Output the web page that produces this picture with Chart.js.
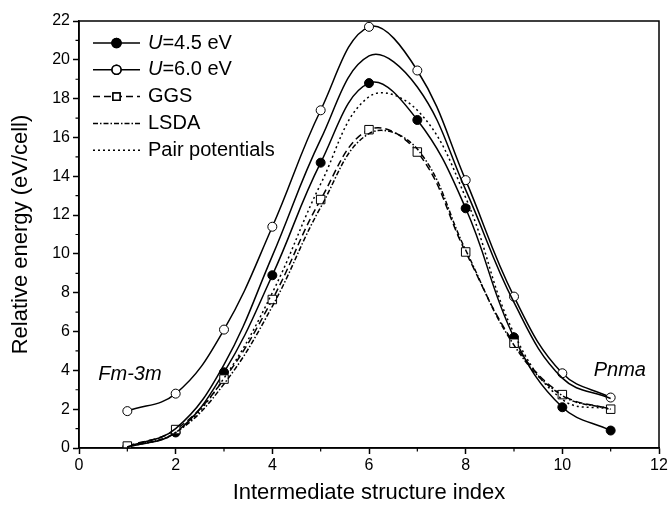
<!DOCTYPE html>
<html>
<head>
<meta charset="utf-8">
<script src="https://cdn.jsdelivr.net/npm/chart.js@4/dist/chart.umd.min.js"></script>
<style>
html, body { margin: 0; padding: 0; background: #fff; }
</style>
</head>
<body>
<canvas id="chart" width="670" height="512"></canvas>
<script>
// structure index along the path Fm-3m -> Pnma
const structure_index = [1, 2, 3, 4, 5, 6, 7, 8, 9, 10, 11];

// relative energies, eV/cell
const energy_u45 = [0.05, 0.8, 3.9, 8.9, 14.7, 18.8, 16.9, 12.35, 5.7, 2.1, 0.9];
const energy_u60 = [1.9, 2.8, 6.1, 11.4, 17.4, 21.7, 19.45, 13.8, 7.8, 3.85, 2.6];
const energy_unlabelled = [0.05, 1.0, 4.3, 9.9, 15.9, 20.2, 18.6, 13.3, 7.5, 3.6, 2.55];
const energy_ggs = [0.1, 0.95, 3.55, 7.65, 12.8, 16.4, 15.25, 10.1, 5.4, 2.75, 2.0];
const energy_lsda = [0.05, 0.8, 3.3, 7.3, 12.4, 16.2, 15.4, 10.2, 5.3, 2.7, 2.0];
const energy_pair = [0.05, 0.8, 3.6, 8.0, 13.6, 18.1, 17.4, 12.9, 5.9, 2.5, 2.0];

const x_ticks = [0, 2, 4, 6, 8, 10, 12];
const y_ticks = [0, 2, 4, 6, 8, 10, 12, 14, 16, 18, 20, 22];

const FONT = "'Liberation Sans', Arial, Helvetica, sans-serif";

function pts(arr) {
    return structure_index.map((x, i) => ({x: x, y: arr[i]}));
}

function line_set(label, arr, extra) {
    const base = {
        label: label,
        data: pts(arr),
        borderColor: "#000",
        backgroundColor: "#000",
        borderWidth: 1.5,
        tension: 0.4,
        pointRadius: 0,
        pointBorderWidth: 1,
        pointBorderColor: "#000",
        fill: false,
    };
    return Object.assign(base, extra);
}

const data = {
    datasets: [
        line_set("", energy_unlabelled, {}),
        line_set("Pair potentials", energy_pair, {borderDash: [2, 3]}),
        line_set("LSDA", energy_lsda, {borderDash: [5, 2, 1.5, 2]}),
        line_set("GGS", energy_ggs, {borderDash: [7, 4], pointStyle: "rect", pointRadius: 6, pointBackgroundColor: "#fff"}),
        line_set("U=6.0 eV", energy_u60, {pointStyle: "circle", pointRadius: 4.5, pointBackgroundColor: "#fff"}),
        line_set("U=4.5 eV", energy_u45, {pointStyle: "circle", pointRadius: 4.5, pointBackgroundColor: "#000"}),
    ]
};

const legend_order = ["U=4.5 eV", "U=6.0 eV", "GGS", "LSDA", "Pair potentials"];

const frame_plugin = {
    id: "frame",
    afterDraw(chart) {
        const ctx = chart.ctx;
        const a = chart.chartArea;
        const xs = chart.scales.x, ys = chart.scales.y;
        ctx.save();
        ctx.strokeStyle = "#000";
        ctx.lineWidth = 1.5;
        ctx.strokeRect(a.left, a.top, a.right - a.left, a.bottom - a.top);

        // minor ticks
        ctx.lineWidth = 1.2;
        ctx.beginPath();
        for (let v = 1; v < 12; v += 2) {
            const px = xs.getPixelForValue(v);
            ctx.moveTo(px, a.bottom);
            ctx.lineTo(px, a.bottom + 3.5);
        }
        for (let v = 1; v < 22; v += 2) {
            const py = ys.getPixelForValue(v);
            ctx.moveTo(a.left, py);
            ctx.lineTo(a.left - 3.5, py);
        }
        ctx.stroke();

        // phase labels
        ctx.fillStyle = "#000";
        ctx.font = "italic 20px " + FONT;
        ctx.textBaseline = "middle";
        ctx.textAlign = "left";
        ctx.fillText("Fm-3m", xs.getPixelForValue(0.4), ys.getPixelForValue(3.8));
        ctx.fillText("Pnma", xs.getPixelForValue(10.65), ys.getPixelForValue(4.0));

        // legend
        const lx = a.left + 14, tx = a.left + 69;
        let ly = a.top + 22;
        legend_order.forEach(name => {
            const ds = chart.data.datasets.find(d => d.label === name);
            ctx.strokeStyle = "#000";
            ctx.lineWidth = 1.5;
            ctx.setLineDash(ds.borderDash || []);
            ctx.beginPath();
            ctx.moveTo(lx, ly);
            ctx.lineTo(lx + 47, ly);
            ctx.stroke();
            ctx.setLineDash([]);
            if (ds.pointRadius > 0) {
                Chart.helpers.drawPoint(ctx, {
                    pointStyle: ds.pointStyle,
                    radius: ds.pointStyle === "rect" ? 5 : 4.5,
                    rotation: 0,
                    borderWidth: 1
                }, lx + 23.5, ly);
                ctx.fillStyle = ds.pointBackgroundColor;
                ctx.strokeStyle = "#000";
                ctx.fill();
                ctx.stroke();
            }
            ctx.fillStyle = "#000";
            if (name.startsWith("U=")) {
                ctx.font = "italic 20px " + FONT;
                ctx.fillText("U", tx, ly);
                const w = ctx.measureText("U").width;
                ctx.font = "20px " + FONT;
                ctx.fillText(name.slice(1), tx + w, ly);
            } else {
                ctx.font = "20px " + FONT;
                ctx.fillText(name, tx, ly);
            }
            ly += 26.8;
        });
        ctx.restore();
    }
};

new Chart(document.getElementById("chart"), {
    type: "line",
    data: data,
    plugins: [frame_plugin],
    options: {
        responsive: false,
        animation: false,
        layout: {
            padding: {top: 21, right: 11, left: 0, bottom: 0}
        },
        plugins: {
            legend: {display: false},
            tooltip: {enabled: false}
        },
        scales: {
            x: {
                type: "linear",
                min: 0,
                max: 12,
                afterBuildTicks: (scale) => { scale.ticks = x_ticks.map(v => ({value: v})); },
                afterFit: (scale) => { scale.height = 64; },
                grid: {display: true, drawOnChartArea: false, drawTicks: true, tickLength: 6, tickColor: "#000", tickWidth: 1.5},
                border: {display: true, color: "#000", width: 1.5},
                ticks: {color: "#000", padding: 2, maxRotation: 0, font: {family: FONT, size: 16}},
                title: {display: true, text: "Intermediate structure index", color: "#000", padding: {top: 0, bottom: 6}, font: {family: FONT, size: 22}}
            },
            y: {
                type: "linear",
                min: 0,
                max: 22,
                afterBuildTicks: (scale) => { scale.ticks = y_ticks.map(v => ({value: v})); },
                afterFit: (scale) => { scale.width = 79; },
                grid: {display: true, drawOnChartArea: false, drawTicks: true, tickLength: 6, tickColor: "#000", tickWidth: 1.5},
                border: {display: true, color: "#000", width: 1.5},
                ticks: {color: "#000", padding: 3, font: {family: FONT, size: 16}},
                title: {display: true, text: "Relative energy (eV/cell)", color: "#000", padding: {top: 8, bottom: 0}, font: {family: FONT, size: 22}}
            }
        }
    }
});
</script>
</body>
</html>
